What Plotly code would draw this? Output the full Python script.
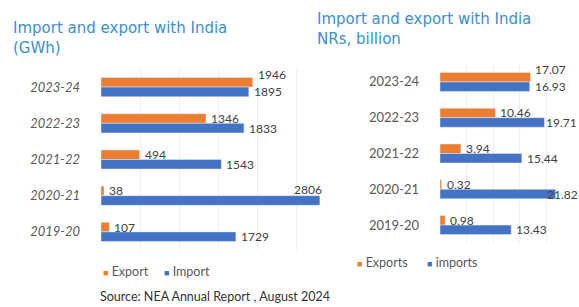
import plotly.graph_objects as go

years = ["2023-24", "2022-23", "2021-22", "2020-21", "2019-20"]
gwh_export = [1946, 1346, 494, 38, 107]
gwh_import = [1895, 1833, 1543, 2806, 1729]
nrs_export = [17.07, 10.46, 3.94, 0.32, 0.98]
nrs_import = [16.93, 19.71, 15.44, 21.82, 13.43]

ORANGE = "#ED7D31"
BLUE = "#4472C4"
FAM = "Lato, Liberation Sans, sans-serif"
LABEL_FONT = dict(family=FAM, size=12, color="#404040")

fig = go.Figure()
fig.add_trace(go.Bar(y=years, x=gwh_export, orientation="h", name="Export",
                     marker_color=ORANGE, xaxis="x", yaxis="y"))
fig.add_trace(go.Bar(y=years, x=gwh_import, orientation="h", name="Import",
                     marker_color=BLUE, xaxis="x", yaxis="y"))
fig.add_trace(go.Bar(y=years, x=nrs_export, orientation="h", name="Exports",
                     marker_color=ORANGE, xaxis="x2", yaxis="y2"))
fig.add_trace(go.Bar(y=years, x=nrs_import, orientation="h", name="imports",
                     marker_color=BLUE, xaxis="x2", yaxis="y2"))

BARGAP = 0.47
half = (1 - BARGAP) / 4  # offset of each bar centre from category centre

# nudges (xshift, yshift, xanchor) for labels that the reference places differently
nudges = {
    ("x", 0, 0): (3, 8, "left"),
    ("x", 3, 1): (4, 11, "right"),
    ("x2", 0, 0): (3, 8, "left"),
    ("x2", 3, 1): (-11, 0, "left"),
    ("x2", 1, 1): (0, 0, "left"),
}

annotations = []
for ax, yax, series, fmt in [("x", "y", (gwh_export, gwh_import), "{:d}"),
                            ("x2", "y2", (nrs_export, nrs_import), "{:.2f}")]:
    for s_idx, vals in enumerate(series):
        for i, v in enumerate(vals):
            xs, ys, xa = nudges.get((ax, i, s_idx), (3, 0, "left"))
            annotations.append(dict(
                x=v, y=i + (-half if s_idx == 0 else half), xref=ax, yref=yax,
                text=fmt.format(v), showarrow=False, xanchor=xa, yanchor="middle",
                xshift=xs, yshift=ys, font=LABEL_FONT))

TITLE_FONT = dict(family="DejaVu Sans, sans-serif", size=15, color="#3A8FD4")
titles = [
    (11, 37.5, "Import and export with India<br>(GWh)"),
    (315, 28.5, "Import and export with India<br>NRs, billion"),
]
for tx, ty, txt in titles:
    annotations.append(dict(x=tx / 579, y=1 - ty / 307, xref="paper", yref="paper",
                            xanchor="left", yanchor="middle", text=txt, showarrow=False,
                            align="left", font=TITLE_FONT))

annotations.append(dict(x=215 / 579, y=1 - 296 / 307, xref="paper", yref="paper",
                        xanchor="center", yanchor="middle",
                        text="Source: NEA Annual Report , August 2024", showarrow=False,
                        font=dict(family=FAM, size=12.5, color="#333333")))

# custom compact legends (small squares close to the text, as in the reference)
LEG_FONT = dict(family=FAM, size=12.5, color="#595959")
legend_items = [
    (101, 271, ORANGE, "Export"), (162, 271, BLUE, "Import"),
    (355, 262, ORANGE, "Exports"), (425, 262, BLUE, "imports"),
]
for lx, ly, col, name in legend_items:
    annotations.append(dict(
        x=lx / 579, y=1 - ly / 307, xref="paper", yref="paper", xanchor="left", yanchor="middle",
        text=f'<span style="color:{col};font-size:9px">■</span> {name}', showarrow=False,
        font=LEG_FONT))

GRID = "#EFEFEF"
fig.update_layout(
    width=579, height=307,
    margin=dict(l=0, r=0, t=0, b=0, autoexpand=False),
    paper_bgcolor="white", plot_bgcolor="white",
    barmode="group", bargap=BARGAP, bargroupgap=0,
    showlegend=False,
    xaxis=dict(domain=[101 / 579, 335 / 579], range=[0, 3000], dtick=500,
               showgrid=True, gridcolor=GRID, showticklabels=False, zeroline=False,
               showline=False, automargin=False, anchor="y"),
    yaxis=dict(domain=[1 - 250 / 307, 1 - 69 / 307], autorange="reversed", type="category",
               showgrid=False, ticklabelstandoff=20, ticks="", automargin=False,
               tickfont=dict(family=FAM, size=13, color="#595959", style="italic"),
               anchor="x"),
    xaxis2=dict(domain=[440 / 579, 572.5 / 579], range=[0, 25], dtick=5,
                showgrid=True, gridcolor=GRID, showticklabels=False, zeroline=False,
                showline=False, automargin=False, anchor="y2"),
    yaxis2=dict(domain=[1 - 243 / 307, 1 - 64 / 307], autorange="reversed", type="category",
                showgrid=False, ticklabelstandoff=20, ticks="", automargin=False,
                tickfont=dict(family=FAM, size=13, color="#595959"),
                anchor="x2"),
    annotations=annotations,
)

fig.write_html("out.html", config={"displayModeBar": False},
               post_script="document.body.style.margin='0';")
